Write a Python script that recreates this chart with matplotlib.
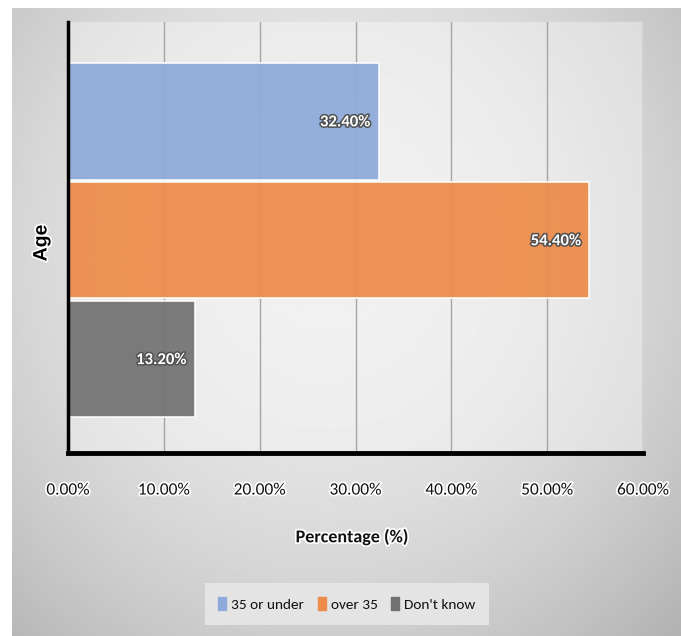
import numpy as np
import matplotlib
matplotlib.use("Agg")
from matplotlib import pyplot as plt
from matplotlib import patheffects as pe

series = ["35 or under", "over 35", "Don't know"]
values = [32.4, 54.4, 13.2]
colors = ["#8eaadb", "#ec8b4a", "#727272"]
xticks = [0, 10, 20, 30, 40, 50, 60]

plt.rcParams['font.family'] = ['Carlito', 'Lato', 'DejaVu Sans']

halo = [pe.withStroke(linewidth=2.5, foreground='white')]

fig = plt.figure(figsize=(6.81, 6.36), dpi=100, facecolor='white')

# shaded grey backdrop, lighter toward the middle
bg = fig.add_axes([12/681, 0, 1 - 12/681, 1 - 8/636])
yy, xx = np.mgrid[0:1:300j, 0:1:300j]
shade = 0.92 - 0.3*((xx - 0.47)**2*1.3 + (yy - 0.38)**2*1.0)
bg.imshow(shade, cmap='gray', vmin=0, vmax=1, aspect='auto',
          extent=[0, 1, 0, 1], origin='upper')
bg.axis('off')

ax = fig.add_axes([68/681, 1 - 453/636, (643 - 68)/681, (453 - 22)/636])
ax.set_facecolor((1, 1, 1, 0.35))

pos = np.arange(len(series))[::-1] - 1
ax.barh(pos, values, height=0.98, color=colors, edgecolor='white',
        linewidth=1.2, alpha=0.93, zorder=2)

for p, v in zip(pos, values):
    ax.text(v - 0.85, p, f"{v:.2f}%", ha='right', va='center', color='white',
            fontweight='bold', fontsize=12, zorder=3,
            path_effects=[pe.withStroke(linewidth=2.2, foreground='#505050')])

ax.set_xlim(0, 60)
ax.set_ylim(-1.79, 1.836)
ax.set_xticks(xticks)
ax.set_xticklabels([f"{t:.2f}%" for t in xticks])
ax.set_yticks([])
ax.grid(axis='x', color='#a5a5a5', lw=1, zorder=1)
ax.set_axisbelow(True)
for s in ['top', 'right']:
    ax.spines[s].set_visible(False)
ax.spines['left'].set_linewidth(2.5)
ax.spines['bottom'].set_linewidth(3.5)
ax.spines['left'].set_zorder(4)
ax.spines['bottom'].set_zorder(4)
ax.tick_params(axis='x', length=0, pad=22, labelsize=12.5, labelcolor='#111111')
for lab in ax.get_xticklabels():
    lab.set_path_effects(halo)

fig.text(352/681, 1 - 537/636, "Percentage (%)", ha='center', va='center',
         fontsize=13, fontweight='bold', color='#111111', path_effects=halo)

fig.text(42/681, 1 - 243/636, "Age", rotation=90, ha='center', va='center',
         family=['Liberation Sans', 'DejaVu Sans'], fontweight='bold',
         fontsize=14, color='black', path_effects=halo)

handles = [plt.Rectangle((0, 0), 1, 1, color=c) for c in colors]
leg = fig.legend(handles, series, loc='center', ncol=3,
                 bbox_to_anchor=(347/681, 1 - 604/636), fontsize=11,
                 frameon=True, fancybox=False, facecolor='#e4e4e4',
                 edgecolor='none', framealpha=1, handlelength=0.5,
                 handleheight=0.9, handletextpad=0.35, columnspacing=0.9,
                 borderpad=0.9)
for t in leg.get_texts():
    t.set_color('#111111')

fig.savefig("out.png", dpi=100, facecolor='white')
